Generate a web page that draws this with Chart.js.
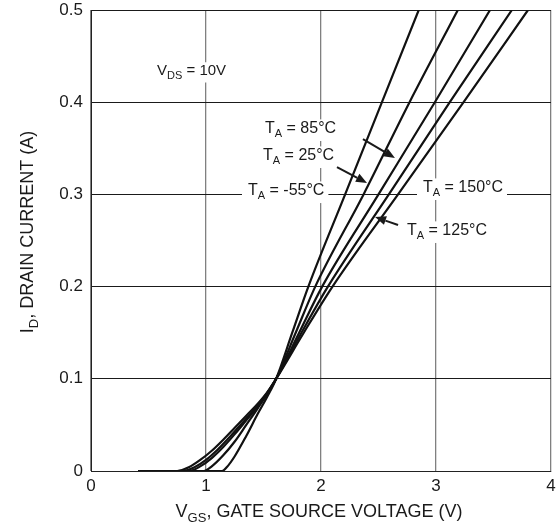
<!DOCTYPE html>
<html><head><meta charset="utf-8">
<script src="https://cdn.jsdelivr.net/npm/chart.js@4.4.0/dist/chart.umd.min.js"></script>
<style>html,body{margin:0;padding:0;background:#fff}#wrap{width:558px;height:531px;position:relative}</style>
</head><body><div id="wrap"><canvas id="c" width="558" height="531"></canvas></div>
<script>
// ---- data ----
const xTicks = [0, 1, 2, 3, 4];
const yTicks = [0, 0.1, 0.2, 0.3, 0.4, 0.5];

const vgsM55 = [0.41, 1.14, 1.18, 1.25, 1.35, 1.45, 1.53, 1.61, 1.75, 1.89, 2.21, 2.53, 2.85];
const idM55  = [0, 0, 0.004, 0.016, 0.038, 0.062, 0.08, 0.1, 0.15, 0.2, 0.3, 0.4, 0.5];

const vgs25 = [0.41, 0.98, 1.05, 1.15, 1.25, 1.35, 1.45, 1.53, 1.61, 1.78, 1.95, 2.37, 2.77, 3.19];
const id25  = [0, 0, 0.005, 0.017, 0.032, 0.05, 0.068, 0.083, 0.1, 0.15, 0.2, 0.3, 0.4, 0.5];

const vgs85 = [0.41, 0.85, 0.95, 1.05, 1.15, 1.25, 1.35, 1.45, 1.53, 1.61, 1.81, 2.01, 2.5, 2.99, 3.47];
const id85  = [0, 0, 0.005, 0.014, 0.026, 0.04, 0.055, 0.07, 0.084, 0.1, 0.15, 0.2, 0.3, 0.4, 0.5];

const vgs125 = [0.41, 0.8, 0.9, 1.0, 1.1, 1.2, 1.3, 1.4, 1.5, 1.61, 1.83, 2.06, 2.59, 3.12, 3.66];
const id125  = [0, 0, 0.004, 0.012, 0.023, 0.036, 0.05, 0.064, 0.079, 0.1, 0.15, 0.2, 0.3, 0.4, 0.5];

const vgs150 = [0.41, 0.75, 0.85, 0.95, 1.05, 1.15, 1.25, 1.35, 1.45, 1.53, 1.61, 1.85, 2.1, 2.67, 3.24, 3.80];
const id150  = [0, 0, 0.004, 0.012, 0.022, 0.034, 0.047, 0.06, 0.073, 0.085, 0.1, 0.15, 0.2, 0.3, 0.4, 0.5];

const seriesNames = ['-55°C', '25°C', '85°C', '125°C', '150°C'];

// labels: [main, sub, rest, x, y, size]
const labelTexts = [
  ['V', 'DS', ' = 10V', 0.574, 0.4295, 15],
  ['T', 'A', ' = 85°C', 1.513, 0.3666, 16],
  ['T', 'A', ' = 25°C', 1.496, 0.3373, 16],
  ['T', 'A', ' = -55°C', 1.365, 0.2993, 16],
  ['T', 'A', ' = 150°C', 2.887, 0.3026, 16],
  ['T', 'A', ' = 125°C', 2.748, 0.256, 16]
];
// arrows: [x0, y0, x1(tip), y1(tip)]
const arrows = [
  [2.365, 0.360, 2.643, 0.3395],
  [2.139, 0.3297, 2.40, 0.3124],
  [2.670, 0.2668, 2.470, 0.2755]
];

const FONT = '"Liberation Sans", Arial, Helvetica, sans-serif';
const INK = '#1a1a1a';

function mk(xs, ys) { return xs.map((x, i) => ({ x: x, y: ys[i] })); }
const seriesX = [vgsM55, vgs25, vgs85, vgs125, vgs150];
const seriesY = [idM55, id25, id85, id125, id150];

function drawSub(ctx, x, y, main, sub, rest, size, align) {
  ctx.font = size + 'px ' + FONT;
  const w1 = ctx.measureText(main).width;
  ctx.font = Math.round(size * 0.7) + 'px ' + FONT;
  const w2 = ctx.measureText(sub).width;
  ctx.font = size + 'px ' + FONT;
  const w3 = ctx.measureText(rest).width;
  const total = w1 + w2 + w3;
  let sx = align === 'center' ? x - total / 2 : x;
  ctx.textAlign = 'left';
  ctx.textBaseline = 'alphabetic';
  ctx.fillText(main, sx, y);
  ctx.font = Math.round(size * 0.7) + 'px ' + FONT;
  ctx.fillText(sub, sx + w1, y + size * 0.25);
  ctx.font = size + 'px ' + FONT;
  ctx.fillText(rest, sx + w1 + w2, y);
  return total;
}

const annot = {
  id: 'annot',
  beforeDatasetsDraw(chart) {
    const ctx = chart.ctx, xs = chart.scales.x, ys = chart.scales.y;
    ctx.save();
    labelTexts.forEach(l => {
      const px = xs.getPixelForValue(l[3]), py = ys.getPixelForValue(l[4]);
      const size = l[5];
      ctx.font = size + 'px ' + FONT;
      const w1 = ctx.measureText(l[0]).width;
      ctx.font = Math.round(size * 0.7) + 'px ' + FONT;
      const w2 = ctx.measureText(l[1]).width;
      ctx.font = size + 'px ' + FONT;
      const w3 = ctx.measureText(l[2]).width;
      ctx.fillStyle = '#fff';
      ctx.fillRect(px - 6, py - size * 0.85, w1 + w2 + w3 + 10, size * 1.35);
      ctx.fillStyle = INK;
      drawSub(ctx, px, py, l[0], l[1], l[2], size, 'left');
    });
    ctx.restore();
  },
  afterDatasetsDraw(chart) {
    const ctx = chart.ctx, xs = chart.scales.x, ys = chart.scales.y;
    ctx.save();
    ctx.strokeStyle = INK; ctx.fillStyle = INK; ctx.lineWidth = 2;
    arrows.forEach(a => {
      const x0 = xs.getPixelForValue(a[0]), y0 = ys.getPixelForValue(a[1]);
      const x1 = xs.getPixelForValue(a[2]), y1 = ys.getPixelForValue(a[3]);
      const ang = Math.atan2(y1 - y0, x1 - x0);
      const L = 11, W = 4.5;
      const bx = x1 - L * Math.cos(ang), by = y1 - L * Math.sin(ang);
      ctx.beginPath(); ctx.moveTo(x0, y0); ctx.lineTo(bx, by); ctx.stroke();
      ctx.beginPath();
      ctx.moveTo(x1, y1);
      ctx.lineTo(bx + W * Math.sin(ang), by - W * Math.cos(ang));
      ctx.lineTo(bx - W * Math.sin(ang), by + W * Math.cos(ang));
      ctx.closePath(); ctx.fill();
    });
    // axis titles
    const ca = chart.chartArea;
    ctx.fillStyle = INK;
    drawSub(ctx, (ca.left + ca.right) / 2 - 2, 517, 'V', 'GS', ', GATE SOURCE VOLTAGE (V)', 18, 'center');
    ctx.save();
    ctx.translate(33, 232);
    ctx.rotate(-Math.PI / 2);
    drawSub(ctx, 0, 0, 'I', 'D', ', DRAIN CURRENT (A)', 18, 'center');
    ctx.restore();
    ctx.restore();
  }
};

new Chart(document.getElementById('c'), {
  type: 'scatter',
  data: {
    datasets: seriesNames.map((n, i) => ({
      label: n,
      data: mk(seriesX[i], seriesY[i]),
      showLine: true,
      borderColor: '#111',
      borderWidth: 2.2,
      pointRadius: 0,
      cubicInterpolationMode: 'monotone',
      fill: false
    }))
  },
  options: {
    responsive: false,
    devicePixelRatio: 1,
    animation: false,
    layout: { padding: { top: 2, right: 0, left: 0, bottom: 0 } },
    plugins: { legend: { display: false }, tooltip: { enabled: false } },
    scales: {
      x: {
        type: 'linear', min: 0, max: 4,
        afterBuildTicks: s => { s.ticks = xTicks.map(v => ({ value: v })); },
        afterFit: s => { s.height = 60; s.paddingRight = 7; },
        ticks: { font: { size: 17, family: FONT }, color: INK, padding: 5, maxRotation: 0 },
        grid: { color: '#808080', lineWidth: 1.3, drawTicks: false },
        border: { display: true, color: '#222', width: 1 }
      },
      y: {
        type: 'linear', min: 0, max: 0.5,
        afterBuildTicks: s => { s.ticks = yTicks.map(v => ({ value: v })); },
        afterFit: s => { s.width = 91; s.paddingTop = 10; },
        ticks: { font: { size: 17, family: FONT }, color: INK, padding: 8,
          callback: v => (v === 0 ? '0' : v.toFixed(1)) },
        grid: { color: '#1a1a1a', lineWidth: 1, drawTicks: false },
        border: { display: true, color: '#222', width: 1 }
      }
    }
  },
  plugins: [annot]
});
</script></body></html>
